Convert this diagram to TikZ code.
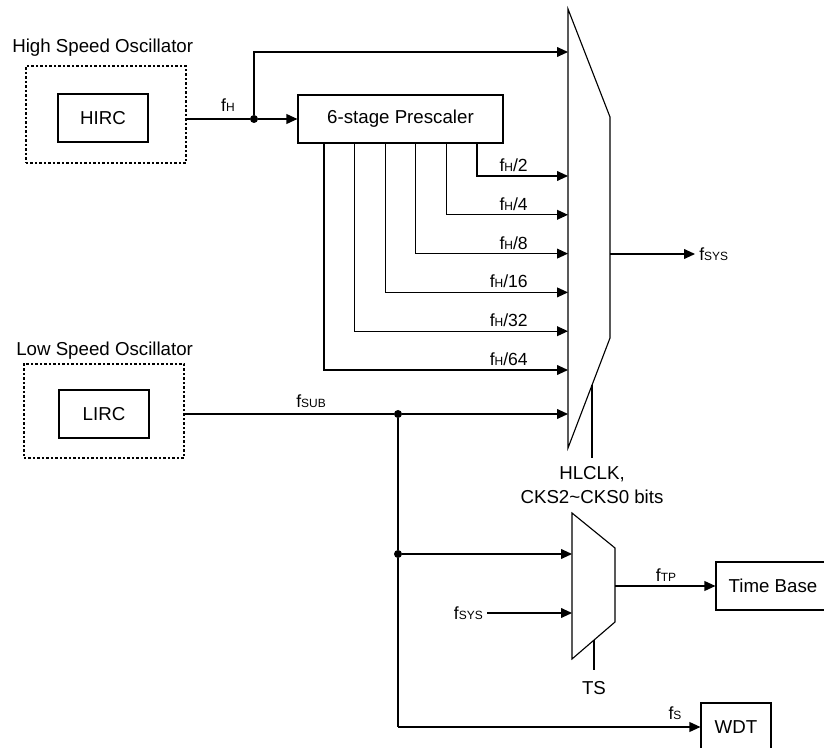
\documentclass[tikz,border=0pt]{standalone}
\usepackage{fontspec}
\setmainfont{Liberation Sans}
\usetikzlibrary{arrows.meta}
\newcommand{\BlockText}{\fontsize{13.3}{17}\selectfont}
\newcommand{\SigText}{\fontsize{12.5}{14}\selectfont}
\newcommand{\SubText}[1]{{\fontsize{8.5}{9}\selectfont #1}}
\newcommand{\freq}[1]{f\SubText{#1}}
\tikzset{
  block/.style={draw,line width=0.8pt,minimum height=1.2cm,inner sep=0pt,font=\BlockText},
  osc frame/.style={draw,dash pattern=on 1.6pt off 1.6pt,line width=0.8pt,inner sep=0pt},
  wire/.style={line width=0.8pt},
  feed/.style={wire,-{Triangle[length=7.8pt,width=7pt]}},
  junction/.style={circle,fill,inner sep=0pt,minimum size=0.2cm},
  sig/.style={inner sep=0pt,font=\SigText},
  caption text/.style={inner sep=0pt,font=\BlockText}
}
\begin{document}
\begin{tikzpicture}[x=0.025cm,y=-0.025cm]
  % one unit = one pixel of the 824 x 748 sheet, y runs downwards
  \path[use as bounding box] (0,0) rectangle (824,748);

  \node[caption text,anchor=west] (hsotitle) at (12,48) {High Speed Oscillator};
  \node[osc frame,minimum width=4cm,minimum height=2.425cm] (hso) at (106,114.5) {};
  \node[block,minimum width=2.25cm] (hirc) at (103,118) {HIRC};
  \node[block,minimum width=5.125cm] (presc) at (400.5,119) {6-stage Prescaler};

  \node[caption text,anchor=west] (lsotitle) at (16,351) {Low Speed Oscillator};
  \node[osc frame,minimum width=4cm,minimum height=2.35cm] (lso) at (104,411) {};
  \node[block,minimum width=2.25cm] (lirc) at (104,414) {LIRC};

  % system clock selector
  \draw[wire,line join=miter] (568,9) -- (610,117) -- (610,338) -- (568,448) -- cycle;
  \coordinate (sysinH) at (568,52);
  \coordinate (sysinS) at (568,414);
  \coordinate (sysout) at (610,254);
  \coordinate (selA) at (592,385);

  \node[junction] (jh) at (254,119) {};
  \draw[wire] (hso.east |- jh) -- (jh);
  \draw[feed] (jh) -- (presc.west);
  \draw[feed] (jh) |- (sysinH);
  \node[sig,anchor=base] (lblh) at (228,112) {\freq{H}};

  \foreach \k/\d in {0/2,1/4,2/8,3/16,4/32,5/64}{
    \pgfmathsetmacro{\xx}{477-30.6*\k}
    \pgfmathsetmacro{\yy}{176+38.8*\k}
    \coordinate (tap\d) at (\xx,\yy);
    \coordinate (sysin\d) at (568,\yy);
    \draw[feed] (presc.south -| tap\d) -- (tap\d) -- (sysin\d);
    \node[sig,anchor=base east] (lbl\d) at (528,\yy-4.5) {\freq{H}/\d};
  }

  \node[junction] (js) at (398,414) {};
  \draw[wire] (lso.east |- lirc) -- (js);
  \draw[feed] (js) -- (sysinS);
  \node[sig,anchor=base] (lblsub) at (311,408) {\freq{SUB}};

  \node[sig,anchor=west] (lblsys) at (699,254) {\freq{SYS}};
  \draw[feed,shorten >=0.1cm] (sysout) -- (lblsys.west);

  \node[caption text,align=center,anchor=north] (selAlbl) at (592,466)
    {HLCLK,\\CKS2\textasciitilde CKS0 bits};
  \draw[wire,shorten >=0.2cm] (selA) -- (selAlbl.north);

  % time base selector
  \draw[wire,line join=miter] (572,513) -- (615,548) -- (615,622) -- (572,659) -- cycle;
  \coordinate (tpin1) at (572,554);
  \coordinate (tpin2) at (572,613);
  \coordinate (tpout) at (615,586);
  \coordinate (selB) at (594,640);

  \node[junction] (jt) at (398,554) {};
  \coordinate (wdtturn) at (398,727);
  \draw[wire] (js) -- (jt) -- (wdtturn);
  \draw[feed] (jt) -- (tpin1);

  \node[sig,anchor=east] (lblsys2) at (483,613) {\freq{SYS}};
  \draw[feed,shorten <=0.1cm] (lblsys2.east) -- (tpin2);

  \node[block,minimum width=2.85cm] (tb) at (773,586) {Time Base};
  \draw[feed] (tpout) -- (tb.west);
  \node[sig,anchor=base] (lbltp) at (666,581) {\freq{TP}};

  \node[caption text] (tslbl) at (594,688) {TS};
  \draw[wire,shorten >=0.275cm] (selB) -- (tslbl.north);

  \node[block,minimum width=1.75cm] (wdt) at (736,727) {WDT};
  \draw[feed] (wdtturn) -- (wdt.west);
  \node[sig,anchor=base] (lbls) at (675,719) {\freq{S}};
\end{tikzpicture}
\end{document}
